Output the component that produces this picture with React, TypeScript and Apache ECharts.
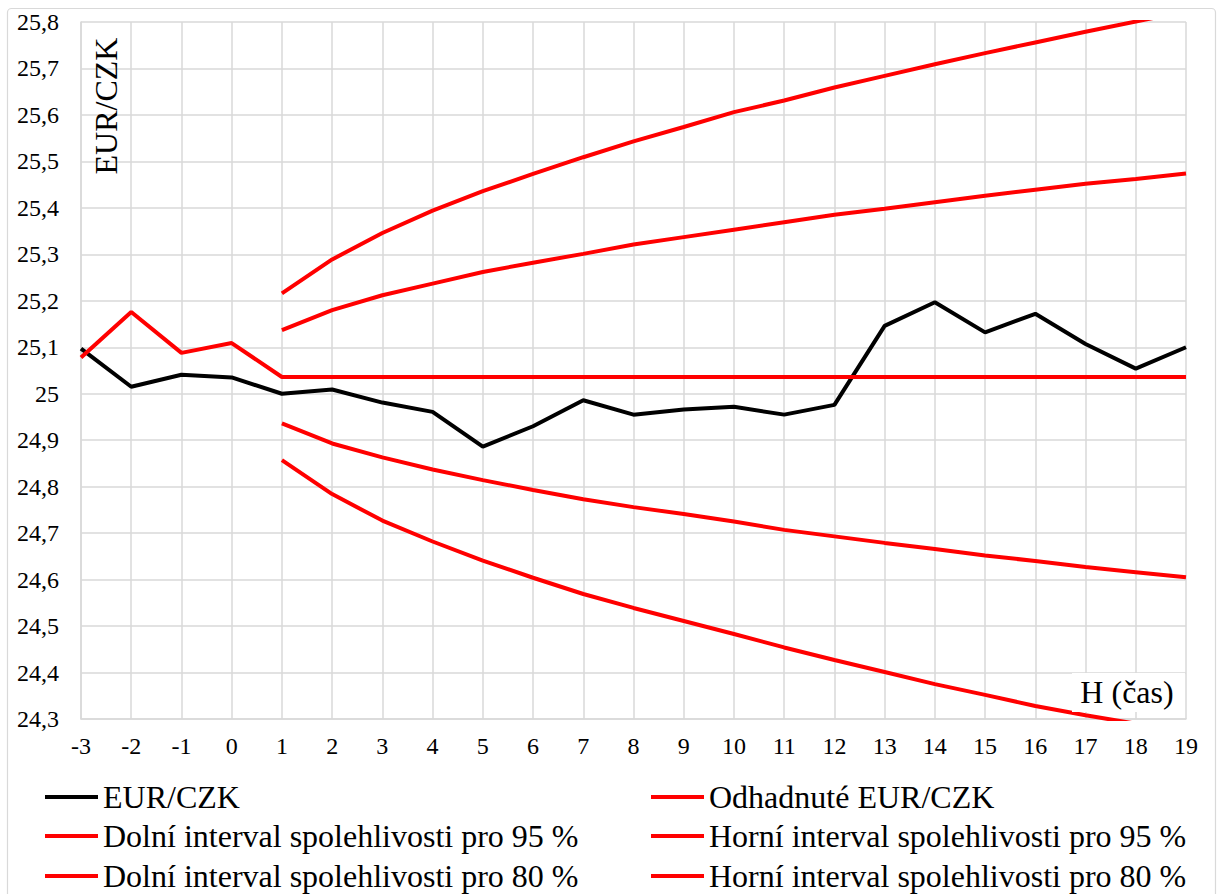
import React, { useEffect, useRef } from "react";
import * as echarts from "echarts";

const categories = ["-3", "-2", "-1", "0", "1", "2", "3", "4", "5", "6", "7", "8", "9", "10", "11", "12", "13", "14", "15", "16", "17", "18", "19"];

const eurCzk = [25.097, 25.015, 25.041, 25.035, 25.0, 25.009, 24.981, 24.961, 24.886, 24.93, 24.986, 24.955, 24.966, 24.972, 24.955, 24.976, 25.146, 25.197, 25.132, 25.172, 25.107, 25.054, 25.1];

const forecast = [25.078, 25.176, 25.088, 25.109, 25.036, 25.036, 25.036, 25.036, 25.036, 25.036, 25.036, 25.036, 25.036, 25.036, 25.036, 25.036, 25.036, 25.036, 25.036, 25.036, 25.036, 25.036, 25.036];

const lower95 = [null, null, null, null, 24.857, 24.784, 24.727, 24.682, 24.641, 24.604, 24.569, 24.539, 24.511, 24.483, 24.454, 24.427, 24.401, 24.375, 24.352, 24.328, 24.308, 24.29, 24.27];

const upper95 = [null, null, null, null, 25.216, 25.289, 25.346, 25.394, 25.436, 25.473, 25.509, 25.543, 25.574, 25.606, 25.631, 25.659, 25.684, 25.709, 25.733, 25.756, 25.779, 25.801, 25.823];

const lower80 = [null, null, null, null, 24.936, 24.893, 24.863, 24.837, 24.814, 24.793, 24.773, 24.756, 24.741, 24.725, 24.707, 24.693, 24.679, 24.666, 24.652, 24.64, 24.627, 24.616, 24.605];

const upper80 = [null, null, null, null, 25.137, 25.18, 25.212, 25.237, 25.262, 25.282, 25.301, 25.321, 25.337, 25.353, 25.369, 25.385, 25.398, 25.412, 25.426, 25.439, 25.452, 25.462, 25.474];

const seriesNames = [
  "EUR/CZK",
  "Odhadnuté EUR/CZK",
  "Dolní interval spolehlivosti pro 95 %",
  "Horní interval spolehlivosti pro 95 %",
  "Dolní interval spolehlivosti pro 80 %",
  "Horní interval spolehlivosti pro 80 %",
];
const seriesData = [eurCzk, forecast, lower95, upper95, lower80, upper80];
const seriesColors = ["#000000", "#ff0000", "#ff0000", "#ff0000", "#ff0000", "#ff0000"];

const yAxisName = "EUR/CZK";
const xAxisName = "H (čas)";

const FONT = "Liberation Serif";
const GRID = "#d9d9d9";

export default function App() {
  const ref = useRef<HTMLDivElement>(null);

  useEffect(() => {
    if (!ref.current) return;
    const chart = echarts.init(ref.current, undefined, { renderer: "svg" });

    const legendPos = [
      { left: 40, top: 776 },
      { left: 646, top: 776 },
      { left: 40, top: 815 },
      { left: 646, top: 815 },
      { left: 40, top: 855 },
      { left: 646, top: 855 },
    ];

    const option: any = {
      animation: false,
      backgroundColor: "#ffffff",
      textStyle: { fontFamily: FONT },
      grid: { left: 81, right: 36, top: 22, bottom: 175, containLabel: false },
      legend: seriesNames.map((n, i) => ({
        data: [n],
        left: legendPos[i].left,
        top: legendPos[i].top,
        icon: "rect",
        itemWidth: 53,
        itemHeight: 4,
        selectedMode: false,
        textStyle: { fontFamily: FONT, fontSize: 32, color: "#000" },
      })),
      xAxis: {
        type: "category",
        data: categories,
        boundaryGap: false,
        axisLine: { show: true, lineStyle: { color: GRID, width: 1.5 } },
        axisTick: { show: false },
        axisLabel: { interval: 0, fontFamily: FONT, fontSize: 24, color: "#000", margin: 15 },
        splitLine: { show: true, interval: 0, lineStyle: { color: GRID, width: 1.5 } },
      },
      yAxis: {
        type: "value",
        min: 24.3,
        max: 25.8,
        interval: 0.1,
        axisLine: { show: true, lineStyle: { color: GRID, width: 1.5 } },
        axisTick: { show: false },
        axisLabel: {
          fontFamily: FONT,
          fontSize: 24,
          color: "#000",
          margin: 22,
          formatter: (v: number) => String(+v.toFixed(1)).replace(".", ","),
        },
        splitLine: { show: true, lineStyle: { color: GRID, width: 1.5 } },
      },
      series: seriesNames.map((n, i) => ({
        name: n,
        type: "line",
        data: seriesData[i],
        symbol: "none",
        showSymbol: false,
        connectNulls: false,
        clip: true,
        lineStyle: { color: seriesColors[i], width: 4 },
        itemStyle: { color: seriesColors[i] },
      })),
      graphic: [
        {
          type: "rect",
          shape: { x: 7.5, y: 8.5, width: 1208, height: 920, r: 4 },
          style: { fill: "none", stroke: GRID, lineWidth: 1.2 },
          z: 0,
          silent: true,
        },
        {
          type: "text",
          x: 106,
          y: 106,
          rotation: Math.PI / 2,
          style: {
            text: yAxisName,
            fontFamily: FONT,
            fontSize: 32,
            fill: "#000",
            align: "center",
            verticalAlign: "middle",
          },
          z: 50,
        },
        {
          type: "rect",
          shape: { x: 1072, y: 673, width: 113, height: 39 },
          style: { fill: "#ffffff" },
          z: 100,
        },
        {
          type: "text",
          x: 1127,
          y: 692,
          style: {
            text: xAxisName,
            fontFamily: FONT,
            fontSize: 32,
            fill: "#000",
            align: "center",
            verticalAlign: "middle",
          },
          z: 101,
        },
      ],
    };

    chart.setOption(option);
    return () => chart.dispose();
  }, []);

  return (
    <div
      ref={ref}
      style={{ position: "fixed", left: 0, top: 0, width: 1222, height: 894, background: "#fff" }}
    />
  );
}
